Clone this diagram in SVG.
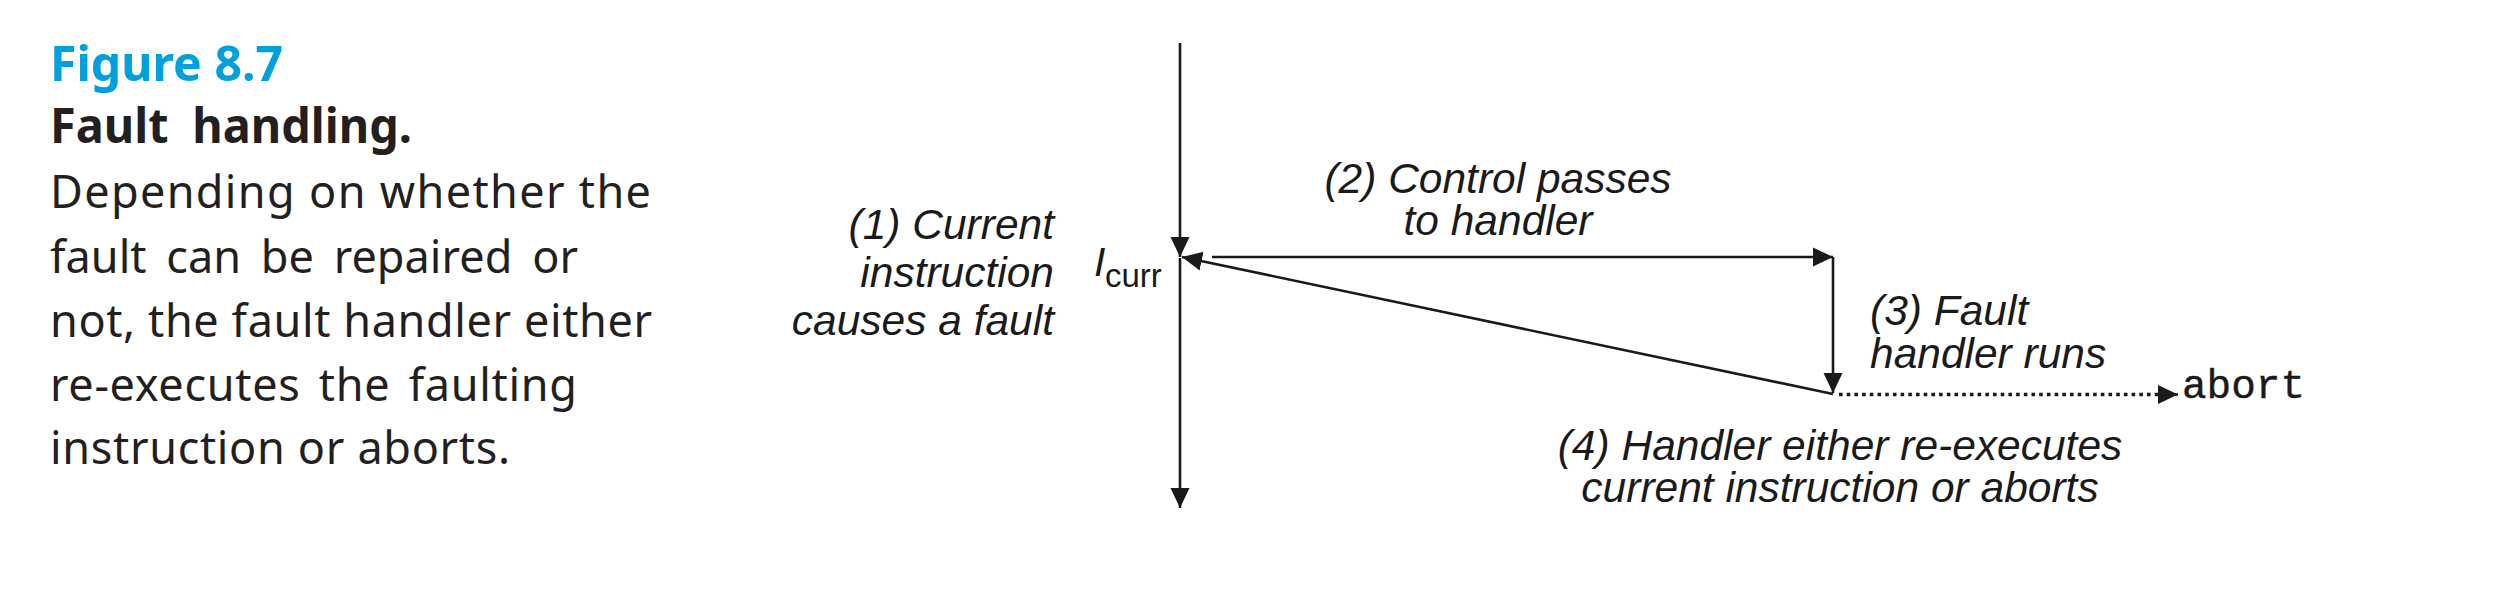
<svg xmlns="http://www.w3.org/2000/svg" width="2498" height="592" viewBox="0 0 2498 592">
<style>
.cap{font-family:"Noto Sans","Open Sans","Liberation Sans",sans-serif;fill:#231f20;font-size:45px}
.fig{font-family:"Noto Sans","Open Sans","Liberation Sans",sans-serif;font-weight:bold;fill:#00a0dc;font-size:48px}
.ttl{font-family:"Noto Sans","Open Sans","Liberation Sans",sans-serif;font-weight:bold;fill:#231f20;font-size:48px}
.lbl{font-family:"Liberation Sans",Arial,sans-serif;font-style:italic;fill:#1a1a1a;font-size:42.5px}
.mono{font-family:"Liberation Mono","Courier New",monospace;fill:#1a1a1a;stroke:#1a1a1a;stroke-width:0.4;font-size:41px}
.ln{stroke:#1a1a1a;stroke-width:2.6;fill:none}
.dot{stroke:#1a1a1a;stroke-width:3.6;fill:none;stroke-dasharray:3.6 4.1}
</style>
<defs>
<marker id="ah" viewBox="0 0 20 20" refX="20" refY="10" markerWidth="20" markerHeight="20" markerUnits="userSpaceOnUse" orient="auto">
<path d="M0,0.5 L20,10 L0,19.5 z" fill="#1a1a1a"/>
</marker>
</defs>
<rect width="2498" height="592" fill="#ffffff"/>
<g id="caption">
<text class="fig" x="50" y="81" textLength="233" lengthAdjust="spacingAndGlyphs">Figure 8.7</text>
<text class="ttl" x="50" y="143" textLength="362" lengthAdjust="spacingAndGlyphs" word-spacing="12">Fault handling.</text>
<text class="cap" x="50" y="208" textLength="601" lengthAdjust="spacing">Depending on whether the</text>
<text class="cap" x="50" y="273" textLength="528" lengthAdjust="spacing" word-spacing="8">fault can be repaired or</text>
<text class="cap" x="50" y="337" textLength="602" lengthAdjust="spacing">not, the fault handler either</text>
<text class="cap" x="50" y="401" textLength="527" lengthAdjust="spacing" word-spacing="6">re-executes the faulting</text>
<text class="cap" x="50" y="464" textLength="460" lengthAdjust="spacing">instruction or aborts.</text>
</g>
<g id="connectors">
<path class="ln" d="M1180,43 L1180,257" marker-end="url(#ah)"/>
<path class="ln" d="M1180,258 L1180,508" marker-end="url(#ah)"/>
<path class="ln" d="M1212,257 L1833,257" marker-end="url(#ah)"/>
<path class="ln" d="M1833,257 L1833,393" marker-end="url(#ah)"/>
<path class="ln" d="M1833,394 L1182,257" marker-end="url(#ah)"/>
<path class="dot" d="M1839,394.5 L2160,394.5"/>
<path class="ln" d="M2160,394.5 L2178,394.5" marker-end="url(#ah)"/>
</g>
<g id="label-1">
<text class="lbl" text-anchor="end" x="1054" y="239">(1) Current</text>
<text class="lbl" text-anchor="end" x="1054" y="287">instruction</text>
<text class="lbl" text-anchor="end" x="1054" y="335">causes a fault</text>
</g>
<g id="icurr">
<text x="1094" y="276" font-family="Liberation Sans, Arial, sans-serif" fill="#1a1a1a"><tspan font-style="italic" font-size="41">I</tspan><tspan x="1105" y="287" font-size="33">curr</tspan></text>
</g>
<g id="label-2">
<text class="lbl" text-anchor="middle" x="1498" y="193">(2) Control passes</text>
<text class="lbl" text-anchor="middle" x="1498" y="235">to handler</text>
</g>
<g id="label-3">
<text class="lbl" x="1870" y="325">(3) Fault</text>
<text class="lbl" x="1870" y="368">handler runs</text>
</g>
<g id="abort">
<text class="mono" x="2182" y="398">abort</text>
</g>
<g id="label-4">
<text class="lbl" text-anchor="middle" x="1840" y="460">(4) Handler either re-executes</text>
<text class="lbl" text-anchor="middle" x="1840" y="502">current instruction or aborts</text>
</g>
</svg>
